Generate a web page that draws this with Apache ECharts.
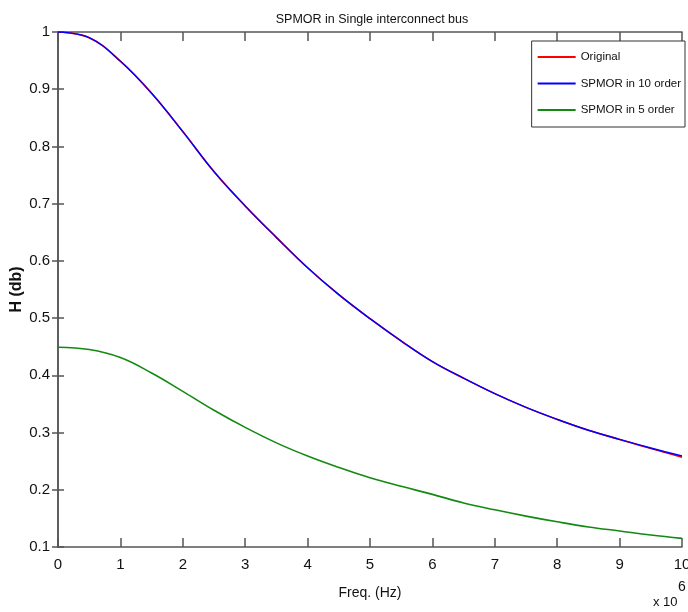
<!DOCTYPE html>
<html>
<head>
<meta charset="utf-8">
<script src="https://cdn.jsdelivr.net/npm/echarts@6/dist/echarts.min.js"></script>
<style>
html,body{margin:0;padding:0;background:#fff;}
#chart{width:688px;height:612px;}
</style>
</head>
<body>
<div id="chart"></div>
<script>
var freq = [0,0.5,1,1.5,2,2.5,3,3.5,4,4.5,5,5.5,6,6.5,7,7.5,8,8.5,9,9.5,10];
var original = [1.000,0.990,0.949,0.893,0.826,0.756,0.696,0.641,0.588,0.541,0.499,0.460,0.424,0.395,0.368,0.344,0.323,0.304,0.288,0.272,0.257];
var spmor10  = [1.000,0.990,0.949,0.893,0.826,0.756,0.696,0.641,0.588,0.541,0.499,0.460,0.424,0.395,0.368,0.344,0.323,0.304,0.288,0.273,0.259];
var spmor5   = [0.449,0.445,0.431,0.404,0.372,0.339,0.309,0.282,0.259,0.239,0.221,0.206,0.192,0.177,0.165,0.154,0.144,0.135,0.128,0.121,0.115];
var seriesNames = ['Original','SPMOR in 10 order','SPMOR in 5 order'];
var xTitle = 'Freq. (Hz)';
var yTitle = 'H (db)';
var chartTitle = 'SPMOR in Single interconnect bus';

function pairs(xs, ys){ return xs.map(function(x,i){ return [x, ys[i]]; }); }

var FONT = '"Liberation Sans", Arial, sans-serif';
var axisColor = '#555';

var chart = echarts.init(document.getElementById('chart'));
var baseAxisLine = {show:true, lineStyle:{color:axisColor, width:1.5}};
chart.setOption({
  animation:false,
  backgroundColor:'#fff',
  title:{text:chartTitle, left:367, top:8, textAlign:'center',
    textStyle:{fontFamily:FONT, fontSize:12.5, fontWeight:'normal', color:'#111'}},
  legend:{
    orient:'vertical', right:3, top:41,
    padding:[10,4,11,6], itemGap:14.5, itemWidth:38, itemHeight:2,
    borderColor:'#333', borderWidth:1, backgroundColor:'#fff',
    icon:'rect',
    textStyle:{fontFamily:FONT, fontSize:11.5, color:'#111'},
    data:seriesNames
  },
  grid:{left:58, right:6, top:32, bottom:65, outerBoundsMode:'none', containLabel:false},
  xAxis:[{
    type:'value', min:0, max:10, interval:1, position:'bottom',
    axisLine:baseAxisLine,
    axisTick:{show:true, inside:true, length:9, lineStyle:{color:axisColor, width:1.5}},
    axisLabel:{fontFamily:FONT, fontSize:15, color:'#111', margin:10},
    splitLine:{show:false},
    name:xTitle, nameLocation:'middle', nameGap:39, nameMoveOverlap:false,
    nameTextStyle:{fontFamily:FONT, fontSize:14, color:'#111'}
  },{
    type:'value', min:0, max:10, interval:1, position:'top',
    axisLine:baseAxisLine,
    axisTick:{show:true, inside:true, length:9, lineStyle:{color:axisColor, width:1.5}},
    axisLabel:{show:false}, splitLine:{show:false}
  }],
  yAxis:[{
    type:'value', min:0.1, max:1, interval:0.1, position:'left',
    axisLine:baseAxisLine,
    axisTick:{show:true, inside:true, length:6, lineStyle:{color:axisColor, width:1.5}},
    axisLabel:{fontFamily:FONT, fontSize:15, color:'#111', margin:8},
    splitLine:{show:false},
    name:yTitle, nameLocation:'middle', nameGap:33, nameRotate:90, nameMoveOverlap:false,
    nameTextStyle:{fontFamily:FONT, fontSize:16, fontWeight:'bold', color:'#111'}
  },{
    type:'value', min:0.1, max:1, interval:0.1, position:'right',
    axisLine:baseAxisLine,
    axisTick:{show:true, inside:true, length:6, lineStyle:{color:axisColor, width:1.5}},
    axisLabel:{show:false}, splitLine:{show:false}
  }],
  graphic:[
    {type:'text', left:653, top:596, style:{text:'x 10', font:'13px '+FONT, fill:'#111'}},
    {type:'text', left:678, top:580, style:{text:'6', font:'14px '+FONT, fill:'#111'}}
  ],
  series:[
    {name:seriesNames[0], type:'line', data:pairs(freq, original), smooth:0.4, showSymbol:false,
      lineStyle:{color:'#ff0000', width:1.6}, itemStyle:{color:'#ff0000'}},
    {name:seriesNames[1], type:'line', data:pairs(freq, spmor10), smooth:0.4, showSymbol:false,
      lineStyle:{color:'#0000ff', width:1.4}, itemStyle:{color:'#0000ff'}},
    {name:seriesNames[2], type:'line', data:pairs(freq, spmor5), smooth:0.4, showSymbol:false,
      lineStyle:{color:'#128a12', width:1.6}, itemStyle:{color:'#128a12'}}
  ]
});
</script>
</body>
</html>
